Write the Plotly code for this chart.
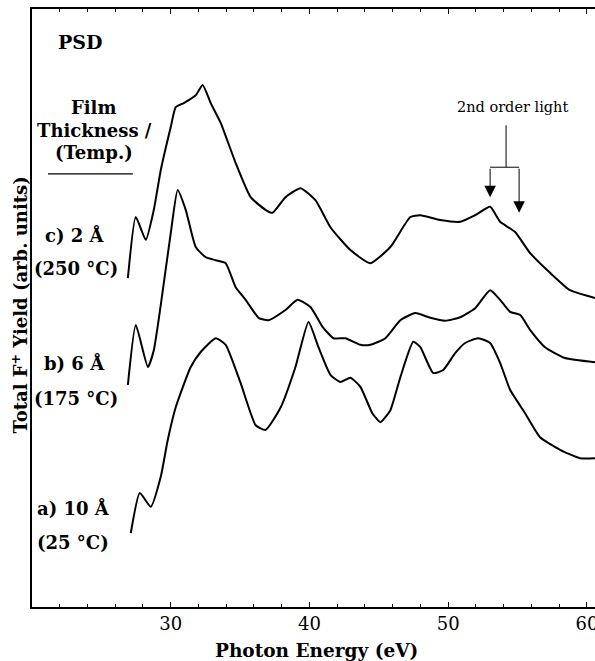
import plotly.graph_objects as go

# Photon energy (eV) and total F+ yield (arb. units)
energy_c = [26.91, 27.48, 28.20, 28.78, 29.28, 30.00, 30.36, 30.94, 31.80, 32.30, 32.88, 33.60,
            34.68, 35.76, 36.83, 37.34, 38.27, 39.35, 40.43, 41.51, 42.95, 44.39, 45.83, 47.27,
            47.99, 49.42, 50.86, 51.94, 53.02, 53.74, 54.82, 55.90, 57.34, 58.78, 60.58]
yield_c = [54.8, 65.0, 61.2, 66.2, 72.8, 80.0, 83.3, 84.0, 85.3, 87.0, 84.0, 80.7,
           74.0, 68.3, 66.2, 65.7, 68.3, 69.8, 67.8, 63.3, 59.5, 57.3, 60.0, 65.0,
           65.3, 64.5, 64.2, 65.3, 66.7, 64.2, 62.5, 59.0, 55.7, 52.8, 51.5]

energy_b = [26.91, 27.48, 28.35, 28.78, 29.28, 30.00, 30.50, 31.08, 31.80, 32.52, 33.24, 33.96,
            34.68, 35.40, 36.33, 37.05, 38.27, 39.14, 40.07, 40.94, 41.73, 42.59, 43.67, 44.39,
            45.47, 46.55, 47.63, 48.71, 49.78, 50.86, 51.94, 53.02, 53.74, 54.46, 55.18, 55.90,
            56.98, 58.42, 60.58]
yield_b = [37.0, 47.0, 40.0, 42.8, 50.3, 62.3, 69.5, 66.2, 60.0, 58.3, 57.8, 57.3,
           53.3, 51.2, 48.2, 47.8, 49.5, 51.2, 50.0, 46.7, 44.8, 44.8, 43.7, 43.7,
           44.8, 47.8, 49.0, 48.2, 47.7, 48.3, 49.8, 52.8, 51.2, 49.2, 48.7, 46.2,
           43.3, 41.5, 40.8]

energy_a = [27.12, 27.77, 28.56, 29.28, 29.78, 30.36, 31.44, 32.16, 33.24, 33.96, 35.04, 36.12,
            36.83, 37.91, 38.99, 39.93, 40.65, 41.51, 42.23, 42.95, 43.67, 44.53, 45.11, 45.83,
            46.55, 47.48, 47.99, 48.92, 49.64, 50.50, 51.22, 52.16, 53.02, 53.74, 54.46, 55.54,
            56.62, 58.06, 59.50, 60.58]
yield_a = [12.3, 19.0, 16.7, 21.7, 27.8, 33.3, 40.0, 42.5, 44.8, 43.7, 37.3, 30.3,
           29.5, 33.2, 40.0, 47.5, 43.3, 38.7, 37.5, 38.2, 36.7, 32.3, 30.8, 32.8,
           38.3, 44.2, 43.3, 39.0, 39.5, 42.3, 44.0, 44.8, 44.0, 40.7, 36.2, 32.3,
           28.3, 26.2, 24.8, 24.8]

x_ticks = [30, 40, 50, 60]

SERIF = "DejaVu Serif"
fig = go.Figure()
for ex, yy in [(energy_c, yield_c), (energy_b, yield_b), (energy_a, yield_a)]:
    fig.add_trace(go.Scatter(x=ex, y=yy, mode="lines",
                             line=dict(color="black", width=2, shape="spline", smoothing=0.5),
                             showlegend=False, hoverinfo="skip"))

fig.update_layout(
    width=595, height=661,
    margin=dict(l=32, r=0, t=9, b=54, autoexpand=False),
    paper_bgcolor="white", plot_bgcolor="white",
    font=dict(family=SERIF, color="black"),
    xaxis=dict(range=[20, 60.58], tickvals=x_ticks, ticks="inside", ticklen=5,
               tickwidth=1.2, tickcolor="black", showline=True, linecolor="black",
               linewidth=1.5, mirror="ticks", showgrid=False, zeroline=False,
               ticklabeloverflow="allow", automargin=False,
               tickfont=dict(family=SERIF, size=18),
               minor=dict(dtick=2, ticks="inside", ticklen=3, tickcolor="black",
                          tickwidth=1, showgrid=False)),
    yaxis=dict(range=[0, 99.67], showticklabels=False, ticks="", showline=True,
               linecolor="black", linewidth=1.5, showgrid=False, zeroline=False,
               automargin=False),
)

labels = [
    ("<b>PSD</b>", 23.53, 94.2, 19),
    ("<b>Film</b>", 24.46, 83.3, 18),
    ("<b>Thickness /</b>", 24.53, 79.5, 18),
    ("<b>(Temp.)</b>", 24.46, 75.8, 18),
    ("<b>c) 2 Å</b>", 23.09, 62.0, 18),
    ("<b>(250 °C)</b>", 23.17, 56.5, 18),
    ("<b>b) 6 Å</b>", 23.09, 40.7, 18),
    ("<b>(175 °C)</b>", 23.17, 34.8, 18),
    ("<b>a) 10 Å</b>", 23.02, 16.5, 18),
    ("<b>(25 °C)</b>", 22.95, 10.7, 18),
]
for txt, x, y, s in labels:
    fig.add_annotation(x=x, y=y, xref="x", yref="y", text=txt, showarrow=False,
                       font=dict(family=SERIF, size=s, color="black"))

# underline below legend heading
fig.add_shape(type="line", x0=21.15, x1=27.27, y0=72.2, y1=72.2, xref="x", yref="y",
              line=dict(color="black", width=1.2))

# 2nd order light marker
fig.add_annotation(x=54.6, y=83.3, xref="x", yref="y", text="2nd order light",
                   showarrow=False, font=dict(family=SERIF, size=14.5, color="black"))
fig.add_shape(type="line", x0=54.17, x1=54.17, y0=80.3, y1=73.3, xref="x", yref="y",
              line=dict(color="black", width=1))
fig.add_shape(type="line", x0=53.02, x1=55.11, y0=73.3, y1=73.3, xref="x", yref="y",
              line=dict(color="black", width=1))
for tx, ty in [(53.02, 68.3), (55.11, 65.7)]:
    fig.add_annotation(x=tx, y=ty, ax=tx, ay=73.3, xref="x", yref="y", axref="x", ayref="y",
                       text="", showarrow=True, arrowhead=2, arrowsize=2.3, arrowwidth=1,
                       arrowcolor="black")

# axis titles
fig.add_annotation(x=0.505, y=-0.072, xref="paper", yref="paper",
                   text="<b>Photon Energy (eV)</b>", showarrow=False,
                   font=dict(family=SERIF, size=18.5, color="black"),
                   xanchor="center", yanchor="middle")
fig.add_annotation(x=-0.022, y=0.505, xref="paper", yref="paper", textangle=-90,
                   text="<b>Total F<sup>+</sup> Yield (arb. units)</b>", showarrow=False,
                   font=dict(family=SERIF, size=18, color="black"),
                   xanchor="center", yanchor="middle")

fig.write_html("out.html")
